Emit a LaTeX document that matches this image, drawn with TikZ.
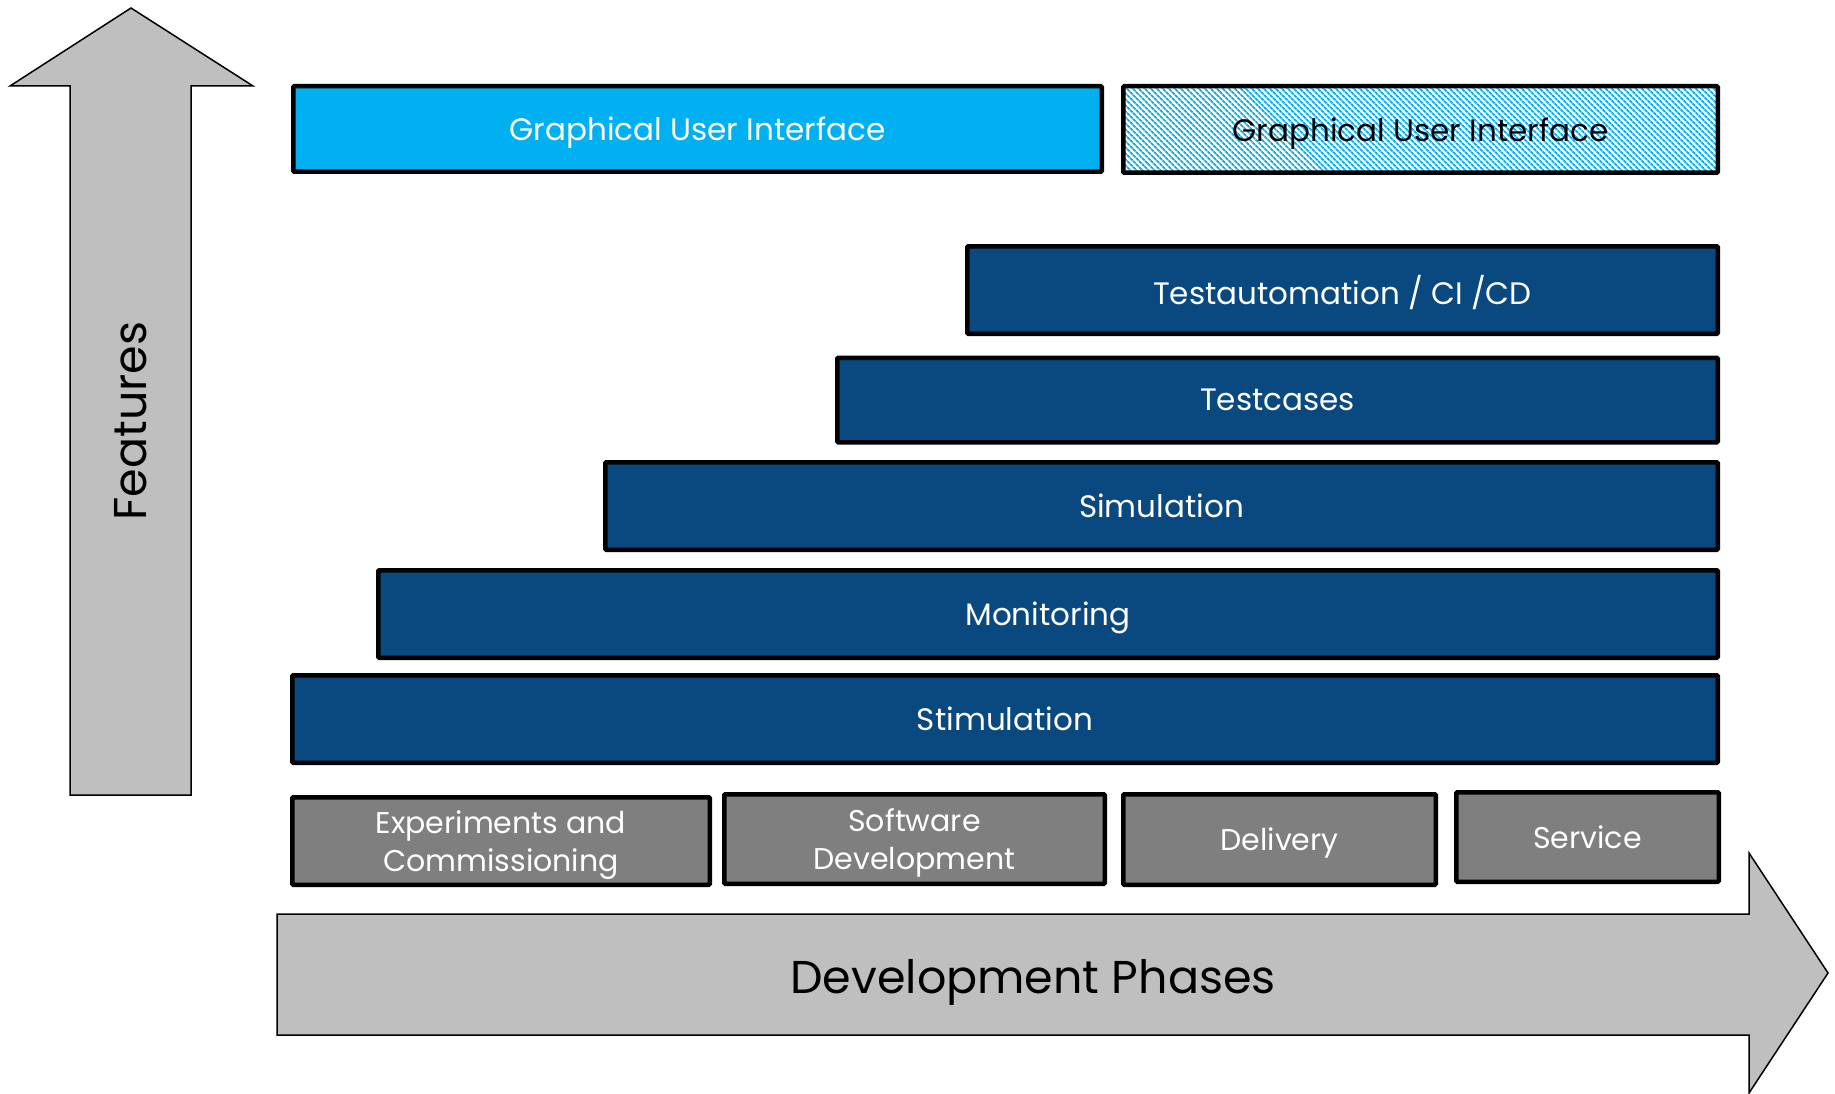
\documentclass[tikz,border=0pt]{standalone}
\usepackage{fontspec}
\setmainfont{Poppins}
\usetikzlibrary{patterns.meta}

\definecolor{guiblue}{RGB}{0,176,240}
\definecolor{layerblue}{RGB}{9,73,128}
\definecolor{phasegray}{RGB}{127,127,127}
\definecolor{arrowgray}{RGB}{191,191,191}

\tikzset{
  box/.style={draw=black, line width=4.5pt, rounded corners=1pt, inner sep=0pt, text depth=0pt, font=\fontsize{31}{38}\selectfont},
  layer/.style={box, fill=layerblue, text=white},
  phase/.style={box, fill=phasegray, text=white, align=center, font=\fontsize{30}{38}\selectfont},
  bigarrow/.style={draw=black, line width=1.5pt, fill=arrowgray},
  arrowtext/.style={inner sep=0pt, font=\fontsize{46}{50}\selectfont},
}

\begin{document}
\begin{tikzpicture}[x=1pt,y=-1pt]
\useasboundingbox (0,0) rectangle (1835,1094);

\draw[bigarrow] (70,795) -- (70,86) -- (10,86) -- (131,8) -- (253,86) -- (191,86) -- (191,795) -- cycle;
\draw[bigarrow] (277,914) -- (1749,914) -- (1749,853) -- (1828,973) -- (1749,1093) -- (1749,1035) -- (277,1035) -- cycle;

\node[arrowtext, rotate=90] (features) at (131,421) {Features};
\node[arrowtext, anchor=base] (phases) at (1033,993) {Development Phases};

\node[box, fill=guiblue, text=white, minimum width=808.5pt, minimum height=85.5pt] (gui) at (697.5,129) {Graphical User Interface};
\node[box, pattern={Lines[angle=-45, distance=4pt, line width=1.8pt]}, pattern color=guiblue, minimum width=594.5pt, minimum height=86.5pt] (guinext) at (1420.5,129.5) {Graphical User Interface};

\node[layer, minimum width=750.5pt, minimum height=87.5pt] (testauto) at (1342.5,290) {Testautomation / CI /CD};
\node[layer, minimum width=880.5pt, minimum height=84.5pt] (testcases) at (1277.5,400) {Testcases};
\node[layer, minimum width=1112.5pt, minimum height=87.5pt] (simulation) at (1161.5,506) {Simulation};
\node[layer, minimum width=1339.5pt, minimum height=87.5pt] (monitoring) at (1048,614) {Monitoring};
\node[layer, minimum width=1425.5pt, minimum height=87.5pt] (stimulation) at (1005,719) {Stimulation};

\node[phase, minimum width=417.5pt, minimum height=87.5pt] (experiments) at (501,841) {Experiments and\\Commissioning};
\node[phase, minimum width=380.5pt, minimum height=89.5pt] (swdev) at (914.5,839) {Software\\Development};
\node[phase, minimum width=312.5pt, minimum height=90.5pt] (delivery) at (1279.5,839.5) {Delivery};
\node[phase, minimum width=262.5pt, minimum height=89.5pt] (service) at (1587.5,837) {Service};

\end{tikzpicture}
\end{document}
